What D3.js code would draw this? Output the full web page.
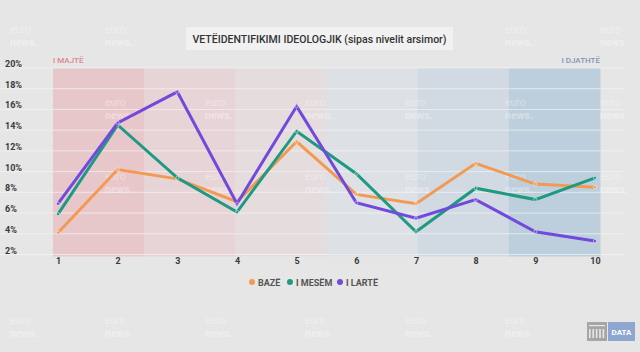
<!DOCTYPE html>
<html>
<head>
<meta charset="utf-8">
<script src="https://cdn.jsdelivr.net/npm/d3@7"></script>
<style>
  body { margin: 0; background: #e6e6e6; }
  svg { display: block; font-family: Roboto, "Noto Sans", sans-serif; }
</style>
</head>
<body>
<div id="chart"></div>
<script>
// data
var categories = [1, 2, 3, 4, 5, 6, 7, 8, 9, 10];
var baze  = [4.1, 10.2, 9.3, 7.1, 12.9, 7.8, 6.9, 10.8, 8.8, 8.5];
var mesem = [5.9, 14.5, 9.4, 6.1, 13.9, 9.8, 4.2, 8.4, 7.3, 9.4];
var larte = [6.9, 14.7, 17.7, 6.9, 16.3, 7.0, 5.5, 7.3, 4.2, 3.3];
var seriesNames = ["BAZË", "I MESËM", "I LARTË"];
var yTicks = [2, 4, 6, 8, 10, 12, 14, 16, 18, 20];
var bandColors = ["#e8c7cb", "#e7d4d7", "#e5dcde", "#dde1e5", "#d1d9e2", "#bdcfdc"];

var width = 640, height = 352;
var colors = ["#f39a52", "#1f9a82", "#7149dc"];

var svg = d3.select("#chart").append("svg")
    .attr("width", width)
    .attr("height", height);

svg.append("rect").attr("width", width).attr("height", height).attr("fill", "#e6e6e6");

var x = d3.scaleLinear().domain([1, 10]).range([58, 595]);
var y = d3.scaleLinear().domain([2, 20]).range([254.5, 68]);

// background bands (left -> right)
var band = d3.scaleBand().domain(d3.range(6)).range([53, 600]);
svg.selectAll(".band").data(bandColors).enter()
    .append("rect")
    .attr("x", function (d, i) { return band(i); })
    .attr("width", band.bandwidth() + 0.5)
    .attr("y", y(20))
    .attr("height", y(2) - y(20) + 2)
    .attr("fill", function (d) { return d; });

// watermarks (kept off the labels)
var wmX = [10, 105, 205, 305, 405, 505, 600];
var wmY = [33, 106, 180, 324];
wmY.forEach(function (wy, r) {
    wmX.forEach(function (wx, c) {
        if (r === 0 && c > 1 && c < 5) return;
        if ((r === 1 || r === 2) && c === 0) return;
        if (r === 3 && c === 6) return;
        var g = svg.append("g").attr("transform", "translate(" + wx + "," + wy + ")")
            .attr("fill", "#ffffff").attr("opacity", 0.35)
            .style("font-size", "10.5px");
        g.append("text").attr("y", 0).text("euro");
        g.append("text").attr("y", 13).style("font-weight", 700).text("news.");
    });
});

// gridlines + y labels
var grid = svg.append("g");
grid.selectAll("line").data(yTicks).enter()
    .append("line")
    .attr("x1", 0).attr("x2", 625)
    .attr("y1", function (d) { return y(d); })
    .attr("y2", function (d) { return y(d); })
    .attr("stroke", "#f3f3f3")
    .attr("stroke-opacity", 0.7)
    .attr("stroke-width", 1);

grid.selectAll("text").data(yTicks).enter()
    .append("text")
    .attr("x", 5)
    .attr("y", function (d) { return y(d) - 1; })
    .style("font-size", "9px")
    .style("font-weight", 700)
    .attr("fill", "#3a3a3a")
    .text(function (d) { return d + "%"; });

// x axis
var xAxis = d3.axisBottom(x).tickValues(categories).tickSize(0).tickPadding(0);
var xg = svg.append("g").attr("transform", "translate(0,258)").call(xAxis);
xg.select(".domain").remove();
xg.selectAll("text")
    .style("font-size", "9px")
    .style("font-weight", 700)
    .style("font-family", "Roboto, sans-serif")
    .attr("fill", "#3a3a3a");

// side labels
svg.append("text").attr("x", 53).attr("y", 63)
    .style("font-size", "8px").style("font-weight", 500)
    .attr("fill", "#e0848f").text("I MAJTË");
svg.append("text").attr("x", 600).attr("y", 63).attr("text-anchor", "end")
    .style("font-size", "8px").style("font-weight", 500)
    .attr("fill", "#8793b8").text("I DJATHTË");

// lines
var line = d3.line()
    .x(function (d, i) { return x(categories[i]); })
    .y(function (d) { return y(d); });

[baze, mesem, larte].forEach(function (s, k) {
    svg.append("path")
        .datum(s)
        .attr("d", line)
        .attr("fill", "none")
        .attr("stroke", colors[k])
        .attr("stroke-width", 3)
        .attr("stroke-linejoin", "miter");
    svg.selectAll(".pt" + k).data(s).enter()
        .append("circle")
        .attr("cx", function (d, i) { return x(categories[i]); })
        .attr("cy", function (d) { return y(d); })
        .attr("r", 1.6)
        .attr("fill", colors[k])
        .attr("stroke", "#ffffff")
        .attr("stroke-opacity", 0.6)
        .attr("stroke-width", 0.8);
});

// title
var title = svg.append("g");
title.append("rect").attr("x", 186).attr("y", 27).attr("width", 267).attr("height", 23)
    .attr("fill", "#f1f1f1");
title.append("text").attr("x", 319.5).attr("y", 42.5).attr("text-anchor", "middle")
    .style("font-size", "11.5px").style("font-weight", 500)
    .attr("fill", "#333333")
    .attr("textLength", 254).attr("lengthAdjust", "spacingAndGlyphs")
    .text("VETËIDENTIFIKIMI IDEOLOGJIK (sipas nivelit arsimor)");

// legend
var legX = [252, 290, 340];
var leg = svg.append("g");
seriesNames.forEach(function (n, i) {
    leg.append("circle").attr("cx", legX[i]).attr("cy", 282).attr("r", 3)
        .attr("fill", colors[i]);
    leg.append("text").attr("x", legX[i] + 6).attr("y", 285.5)
        .style("font-size", "9px").style("font-weight", 700)
        .attr("fill", "#555555").text(n);
});

// logo
var logo = svg.append("g");
logo.append("rect").attr("x", 587).attr("y", 322).attr("width", 20).attr("height", 19).attr("fill", "#a6a6a6");
d3.range(5).forEach(function (i) {
    logo.append("rect").attr("x", 589 + i * 3.4).attr("y", 329).attr("width", 1.6).attr("height", 9).attr("fill", "#e6e6e6");
});
logo.append("rect").attr("x", 589).attr("y", 325).attr("width", 16).attr("height", 1.2).attr("fill", "#e6e6e6");
logo.append("rect").attr("x", 608).attr("y", 322).attr("width", 27).attr("height", 19).attr("fill", "#8ea7d0");
logo.append("text").attr("x", 621.5).attr("y", 334.5).attr("text-anchor", "middle")
    .style("font-size", "8px").style("font-weight", 700).attr("fill", "#ffffff").text("DATA");
</script>
</body>
</html>
